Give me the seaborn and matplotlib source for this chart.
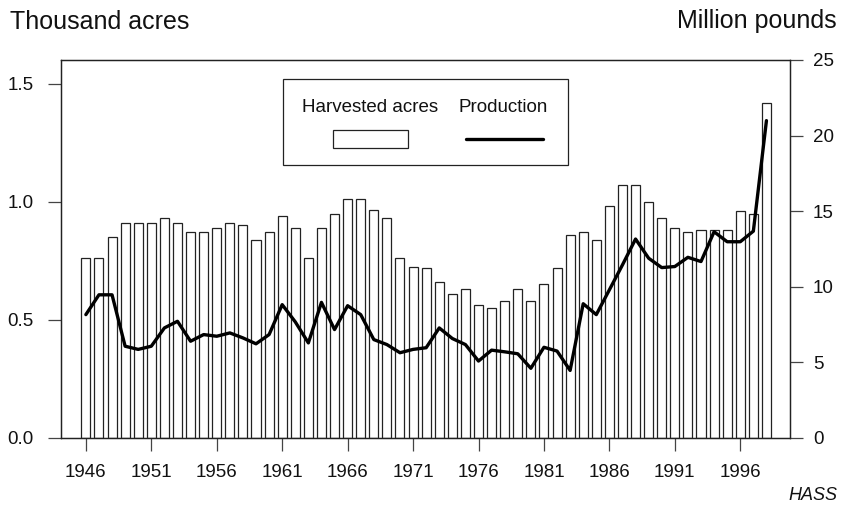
import numpy as np
import pandas as pd
import matplotlib
matplotlib.use("Agg")
import matplotlib.pyplot as plt
from matplotlib.patches import Rectangle
from matplotlib.lines import Line2D
import seaborn as sns

years = list(range(1946, 1999))
acres = [0.76, 0.76, 0.85, 0.91, 0.91, 0.91, 0.93, 0.91, 0.87, 0.87,
         0.89, 0.91, 0.90, 0.84, 0.87, 0.94, 0.89, 0.76, 0.89, 0.95,
         1.01, 1.01, 0.965, 0.93, 0.76, 0.724, 0.72, 0.66, 0.61, 0.63,
         0.561, 0.55, 0.58, 0.63, 0.58, 0.65, 0.72, 0.86, 0.87, 0.84,
         0.98, 1.07, 1.07, 1.00, 0.93, 0.89, 0.87, 0.88, 0.88, 0.88,
         0.96, 0.95, 1.42]
production = [8.16, 9.47, 9.47, 6.07, 5.86, 6.07, 7.28, 7.72, 6.40, 6.84,
              6.73, 6.95, 6.62, 6.23, 6.84, 8.82, 7.68, 6.29, 8.97, 7.17,
              8.75, 8.16, 6.51, 6.18, 5.64, 5.86, 5.97, 7.28, 6.58, 6.18,
              5.09, 5.81, 5.70, 5.57, 4.61, 6.00, 5.75, 4.47, 8.88, 8.16,
              9.80, 11.45, 13.16, 11.89, 11.27, 11.34, 11.95, 11.67, 13.64, 12.98,
              12.98, 13.68, 20.99]
xtick_years = [1946, 1951, 1956, 1961, 1966, 1971, 1976, 1981, 1986, 1991, 1996]
left_ticks = [0.0, 0.5, 1.0, 1.5]
left_labels = ["0.0", "0.5", "1.0", "1.5"]
right_ticks = [0, 5, 10, 15, 20, 25]
series_labels = ["Harvested acres", "Production"]

df = pd.DataFrame({"year": years, "acres": acres, "production": production})

sns.set_style("ticks")
plt.rcParams["font.family"] = ["Liberation Sans", "DejaVu Sans"]

fig = plt.figure(figsize=(8.54, 5.05), dpi=100)
W, H = 854, 505
ax = fig.add_axes([61 / W, 1 - 438 / H, (790 - 61) / W, (438 - 60) / H])

sns.barplot(data=df, x="year", y="acres", native_scale=True, width=0.69,
            color="white", saturation=1, edgecolor="#222222", linewidth=0.9,
            errorbar=None, ax=ax)
ax.set_xlim(1944.1, 1999.8)
ax.set_ylim(0, 1.6)
ax.set_xticks(xtick_years)
ax.set_xticklabels([str(y) for y in xtick_years])
ax.set_yticks(left_ticks)
ax.set_yticklabels(left_labels)
ax.set_xlabel("")
ax.set_ylabel("")

ax2 = ax.twinx()
sns.lineplot(data=df, x="year", y="production", color="black", linewidth=2.4, ax=ax2)
ax2.set_ylim(0, 25)
ax2.set_yticks(right_ticks)
ax2.set_yticklabels([str(t) for t in right_ticks])
ax2.set_xlim(1944.1, 1999.8)
ax2.set_xlabel("")
ax2.set_ylabel("")

for a in (ax, ax2):
    for s in a.spines.values():
        s.set_visible(True)
        s.set_linewidth(0.9)
        s.set_color("#222222")
    a.tick_params(direction="out", length=9.4, width=0.9, color="#444444",
                  labelsize=13.5, labelcolor="#111111")
ax.tick_params(axis="y", pad=10.5)
ax.tick_params(axis="x", pad=9.5)
ax2.tick_params(axis="y", pad=7)

# Legend box (labels above handles)
lx0, lx1, ly0, ly1 = 283, 568, 79, 165
fig.patches.append(Rectangle((lx0 / W, 1 - ly1 / H), (lx1 - lx0) / W, (ly1 - ly0) / H,
                             transform=fig.transFigure, facecolor="white",
                             edgecolor="#222222", linewidth=0.9, zorder=10))
fig.text(370 / W, 1 - 107 / H, series_labels[0], ha="center", va="center",
         fontsize=13.5, color="#111111", zorder=11)
fig.text(503 / W, 1 - 107 / H, series_labels[1], ha="center", va="center",
         fontsize=13.5, color="#111111", zorder=11)
fig.patches.append(Rectangle((333 / W, 1 - 148 / H), 75 / W, 18 / H,
                             transform=fig.transFigure, facecolor="white",
                             edgecolor="#222222", linewidth=0.9, zorder=11))
fig.lines.append(Line2D([466 / W, 543 / W], [1 - 139 / H, 1 - 139 / H],
                        transform=fig.transFigure, color="black", linewidth=2.4, zorder=11))

fig.text(10 / W, 1 - 29 / H, "Thousand acres", ha="left", va="baseline",
         fontsize=18, color="#111111")
fig.text(837 / W, 1 - 28 / H, "Million pounds", ha="right", va="baseline",
         fontsize=18, color="#111111")
fig.text(837 / W, 1.5 / H, "HASS", ha="right", va="bottom",
         fontsize=13, style="italic", color="#111111")

fig.savefig("out.png", dpi=100)
